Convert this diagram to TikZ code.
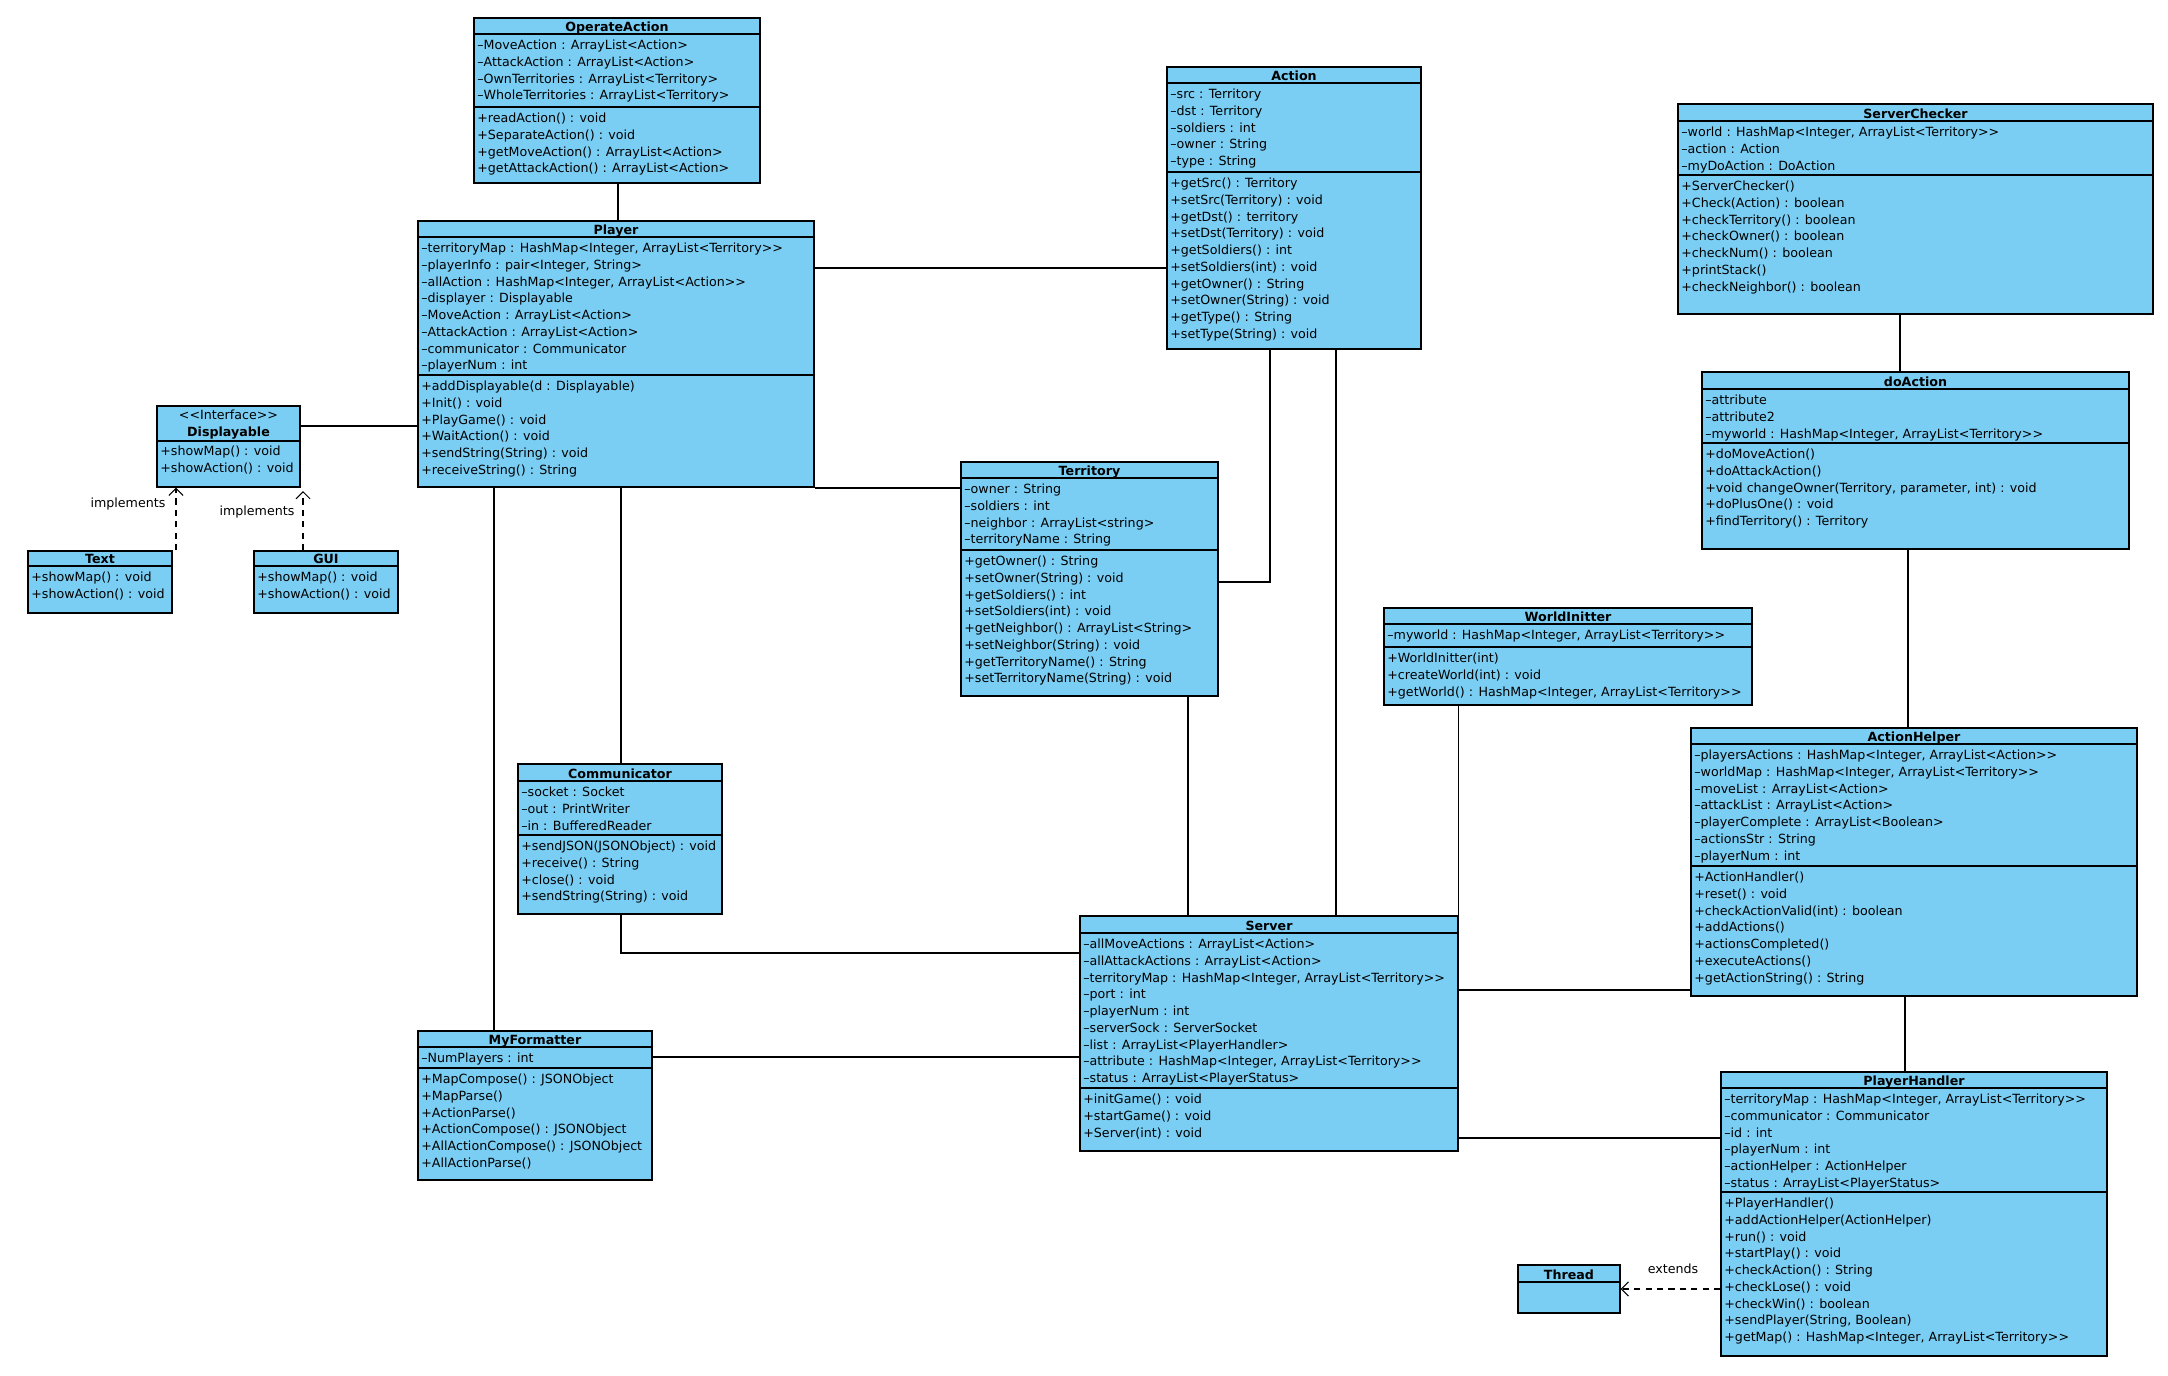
\documentclass[tikz,border=0pt]{standalone}
\usepackage{fontspec}
\newfontfamily\umlfont{DejaVu Sans}[Ligatures=TeXOff]
\usepackage{tikz}
\usetikzlibrary{arrows.meta,positioning,fit,calc}
\definecolor{classfill}{HTML}{7ACEF4}

\begin{document}
\begin{tikzpicture}[
    x=0.02cm, y=-0.02cm,
    font=\umlfont\fontsize{7.2}{9.55}\selectfont,
    classbox/.style={draw=black, line width=0.8pt, fill=classfill, inner sep=0pt},
    classsep/.style={draw=black, line width=0.6pt},
    classname/.style={anchor=base, inner sep=0pt, font=\umlfont\fontsize{7.2}{9.55}\selectfont\bfseries},
    classrows/.style={anchor=north west, align=left, inner sep=0pt},
    assoc/.style={draw=black, line width=0.6pt},
    realize/.style={draw=black, line width=0.6pt, dash pattern=on 3.5pt off 3pt,
        -{Straight Barb[length=4pt, width=8pt, line width=0.6pt]}},
    relLabel/.style={inner sep=1pt}
]

\fill[white] (0,0) rectangle (2168,1376);
\useasboundingbox (0,0) rectangle (2168,1376);

% OperateAction
\node[classbox, fit={(474,18) (760,183)}] (opAct) {};
\draw[classsep] (474,34) -- (760,34) (474,107) -- (760,107);
\node[classname] at (617,31) {OperateAction};
\node[classrows] at (477,39.5) {–MoveAction : ArrayList<Action>\\–AttackAction : ArrayList<Action>\\–OwnTerritories : ArrayList<Territory>\\–WholeTerritories : ArrayList<Territory>};
\node[classrows] at (477,112.5) {+readAction() : void\\+SeparateAction() : void\\+getMoveAction() : ArrayList<Action>\\+getAttackAction() : ArrayList<Action>};

% Player
\node[classbox, fit={(418,221) (814,487)}] (player) {};
\draw[classsep] (418,237) -- (814,237) (418,375) -- (814,375);
\node[classname] at (616,234) {Player};
\node[classrows] at (421,242.5) {–territoryMap : HashMap<Integer, ArrayList<Territory>>\\–playerInfo : pair<Integer, String>\\–allAction : HashMap<Integer, ArrayList<Action>>\\–displayer : Displayable\\–MoveAction : ArrayList<Action>\\–AttackAction : ArrayList<Action>\\–communicator : Communicator\\–playerNum : int};
\node[classrows] at (421,380.5) {+addDisplayable(d : Displayable)\\+Init() : void\\+PlayGame() : void\\+WaitAction() : void\\+sendString(String) : void\\+receiveString() : String};

% Action
\node[classbox, fit={(1167,67) (1421,349)}] (action) {};
\draw[classsep] (1167,83) -- (1421,83) (1167,172) -- (1421,172);
\node[classname] at (1294,80) {Action};
\node[classrows] at (1170,88.5) {–src : Territory\\–dst : Territory\\–soldiers : int\\–owner : String\\–type : String};
\node[classrows] at (1170,177.5) {+getSrc() : Territory\\+setSrc(Territory) : void\\+getDst() : territory\\+setDst(Territory) : void\\+getSoldiers() : int\\+setSoldiers(int) : void\\+getOwner() : String\\+setOwner(String) : void\\+getType() : String\\+setType(String) : void};

% ServerChecker
\node[classbox, fit={(1678,104) (2153,314)}] (srvCheck) {};
\draw[classsep] (1678,121) -- (2153,121) (1678,175) -- (2153,175);
\node[classname] at (1915.5,118) {ServerChecker};
\node[classrows] at (1681,126.5) {–world : HashMap<Integer, ArrayList<Territory>>\\–action : Action\\–myDoAction : DoAction};
\node[classrows] at (1681,180.5) {+ServerChecker()\\+Check(Action) : boolean\\+checkTerritory() : boolean\\+checkOwner() : boolean\\+checkNum() : boolean\\+printStack()\\+checkNeighbor() : boolean};

% doAction
\node[classbox, fit={(1702,372) (2129,549)}] (doAct) {};
\draw[classsep] (1702,389) -- (2129,389) (1702,443) -- (2129,443);
\node[classname] at (1915.5,386) {doAction};
\node[classrows] at (1705,394.5) {–attribute\\–attribute2\\–myworld : HashMap<Integer, ArrayList<Territory>>};
\node[classrows] at (1705,448.5) {+doMoveAction()\\+doAttackAction()\\+void changeOwner(Territory, parameter, int) : void\\+doPlusOne() : void\\+findTerritory() : Territory};

% Displayable interface and its two views
\node[classbox, fit={(157,406) (300,487)}] (disp) {};
\draw[classsep] (157,441) -- (300,441);
\node[anchor=north, align=center, inner sep=0pt] at (228.5,409.5) {<<Interface>>\\\textbf{Displayable}};
\node[classrows] at (160,445.5) {+showMap() : void\\+showAction() : void};

\node[classbox, fit={(28,551) (172,613)}] (txtCls) {};
\draw[classsep] (28,566) -- (172,566);
\node[classname] at (100,563) {Text};
\node[classrows] at (31,571.5) {+showMap() : void\\+showAction() : void};

\node[classbox, fit={(254,551) (398,613)}] (gui) {};
\draw[classsep] (254,566) -- (398,566);
\node[classname] at (326,563) {GUI};
\node[classrows] at (257,571.5) {+showMap() : void\\+showAction() : void};

% Territory
\node[classbox, fit={(961,462) (1218,696)}] (terr) {};
\draw[classsep] (961,478) -- (1218,478) (961,550) -- (1218,550);
\node[classname] at (1089.5,475) {Territory};
\node[classrows] at (964,483.5) {–owner : String\\–soldiers : int\\–neighbor : ArrayList<string>\\–territoryName : String};
\node[classrows] at (964,555.5) {+getOwner() : String\\+setOwner(String) : void\\+getSoldiers() : int\\+setSoldiers(int) : void\\+getNeighbor() : ArrayList<String>\\+setNeighbor(String) : void\\+getTerritoryName() : String\\+setTerritoryName(String) : void};

% WorldInitter
\node[classbox, fit={(1384,608) (1752,705)}] (worldInit) {};
\draw[classsep] (1384,624) -- (1752,624) (1384,647) -- (1752,647);
\node[classname] at (1568,621) {WorldInitter};
\node[classrows] at (1387,629.5) {–myworld : HashMap<Integer, ArrayList<Territory>>};
\node[classrows] at (1387,652.5) {+WorldInitter(int)\\+createWorld(int) : void\\+getWorld() : HashMap<Integer, ArrayList<Territory>>};

% Communicator
\node[classbox, fit={(518,764) (722,914)}] (comm) {};
\draw[classsep] (518,781) -- (722,781) (518,835) -- (722,835);
\node[classname] at (620,778) {Communicator};
\node[classrows] at (521,786.5) {–socket : Socket\\–out : PrintWriter\\–in : BufferedReader};
\node[classrows] at (521,840.5) {+sendJSON(JSONObject) : void\\+receive() : String\\+close() : void\\+sendString(String) : void};

% Server
\node[classbox, fit={(1080,916) (1458,1151)}] (server) {};
\draw[classsep] (1080,933) -- (1458,933) (1080,1088) -- (1458,1088);
\node[classname] at (1269,930) {Server};
\node[classrows] at (1083,938.5) {–allMoveActions : ArrayList<Action>\\–allAttackActions : ArrayList<Action>\\–territoryMap : HashMap<Integer, ArrayList<Territory>>\\–port : int\\–playerNum : int\\–serverSock : ServerSocket\\–list : ArrayList<PlayerHandler>\\–attribute : HashMap<Integer, ArrayList<Territory>>\\–status : ArrayList<PlayerStatus>};
\node[classrows] at (1083,1093.5) {+initGame() : void\\+startGame() : void\\+Server(int) : void};

% MyFormatter
\node[classbox, fit={(418,1031) (652,1180)}] (myFmt) {};
\draw[classsep] (418,1047) -- (652,1047) (418,1068) -- (652,1068);
\node[classname] at (535,1044) {MyFormatter};
\node[classrows] at (421,1052.5) {–NumPlayers : int};
\node[classrows] at (421,1073.5) {+MapCompose() : JSONObject\\+MapParse()\\+ActionParse()\\+ActionCompose() : JSONObject\\+AllActionCompose() : JSONObject\\+AllActionParse()};

% ActionHelper
\node[classbox, fit={(1691,728) (2137,996)}] (actHelp) {};
\draw[classsep] (1691,744) -- (2137,744) (1691,866) -- (2137,866);
\node[classname] at (1914,741) {ActionHelper};
\node[classrows] at (1694,749.5) {–playersActions : HashMap<Integer, ArrayList<Action>>\\–worldMap : HashMap<Integer, ArrayList<Territory>>\\–moveList : ArrayList<Action>\\–attackList : ArrayList<Action>\\–playerComplete : ArrayList<Boolean>\\–actionsStr : String\\–playerNum : int};
\node[classrows] at (1694,871.5) {+ActionHandler()\\+reset() : void\\+checkActionValid(int) : boolean\\+addActions()\\+actionsCompleted()\\+executeActions()\\+getActionString() : String};

% PlayerHandler
\node[classbox, fit={(1721,1072) (2107,1356)}] (pHandler) {};
\draw[classsep] (1721,1088) -- (2107,1088) (1721,1192) -- (2107,1192);
\node[classname] at (1914,1085) {PlayerHandler};
\node[classrows] at (1724,1093.5) {–territoryMap : HashMap<Integer, ArrayList<Territory>>\\–communicator : Communicator\\–id : int\\–playerNum : int\\–actionHelper : ActionHelper\\–status : ArrayList<PlayerStatus>};
\node[classrows] at (1724,1197.5) {+PlayerHandler()\\+addActionHelper(ActionHelper)\\+run() : void\\+startPlay() : void\\+checkAction() : String\\+checkLose() : void\\+checkWin() : boolean\\+sendPlayer(String, Boolean)\\+getMap() : HashMap<Integer, ArrayList<Territory>>};

% Thread
\node[classbox, fit={(1518,1265) (1620,1313)}] (thread) {};
\draw[classsep] (1518,1282) -- (1620,1282);
\node[classname] at (1569,1279) {Thread};

% Associations
\draw[assoc] (opAct.south -| 618,0) -- (player.north -| 618,0);
\draw[assoc] (player.east |- 0,268) -- (action.west |- 0,268);
\draw[assoc] (disp.east |- 0,426) -- (player.west |- 0,426);
\draw[assoc] (player.east |- 0,488) -- (terr.west |- 0,488);
\draw[assoc] (action.south -| 1270,0) |- (terr.east |- 0,582);
\draw[assoc] (action.south -| 1336,0) -- (server.north -| 1336,0);
\draw[assoc] (terr.south -| 1188,0) -- (server.north -| 1188,0);
\draw[assoc] (worldInit.south -| server.north east) -- (server.north east);
\draw[assoc] (player.south -| 621,0) -- (comm.north -| 621,0);
\draw[assoc] (comm.south -| 621,0) |- (server.west |- 0,953);
\draw[assoc] (player.south -| 494,0) -- (myFmt.north -| 494,0);
\draw[assoc] (myFmt.east |- 0,1057) -- (server.west |- 0,1057);
\draw[assoc] (server.east |- 0,990) -- (actHelp.west |- 0,990);
\draw[assoc] (server.east |- 0,1138) -- (pHandler.west |- 0,1138);
\draw[assoc] (srvCheck.south -| 1900,0) -- (doAct.north -| 1900,0);
\draw[assoc] (doAct.south -| 1908,0) -- (actHelp.north -| 1908,0);
\draw[assoc] (actHelp.south -| 1905,0) -- (pHandler.north -| 1905,0);

% Realization / generalization
\coordinate (guiTip) at (303,491);
\draw[realize] (txtCls.north -| 176,0) -- (disp.south -| 176,0);
\draw[realize] (gui.north -| 303,0) -- (guiTip);
\draw[realize] (pHandler.west |- 0,1289) -- (thread.east |- 0,1289);
\node[relLabel] (implText) at (128,504) {implements};
\node[relLabel] (implGui) at (257,512) {implements};
\node[relLabel] (extLabel) at (1673,1269) {extends};

\end{tikzpicture}
\end{document}
